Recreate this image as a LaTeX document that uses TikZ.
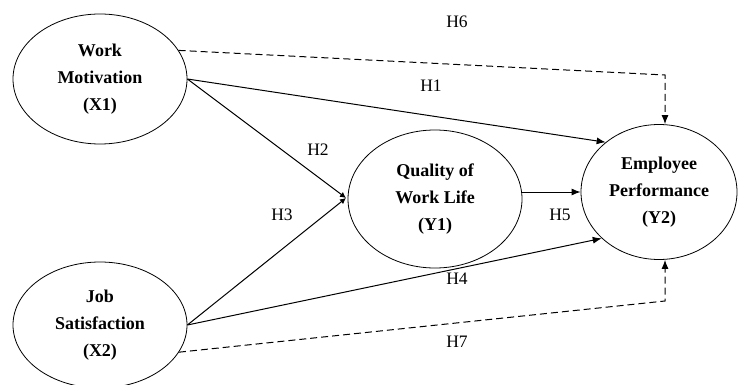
\documentclass[tikz,border=0pt]{standalone}
\usepackage{fontspec}
\setmainfont{Liberation Serif}
\usetikzlibrary{arrows.meta,shapes.geometric}

\begin{document}
\begin{tikzpicture}[x=1pt,y=-1pt,>={Latex[length=9pt,width=7pt]}]
\tikzset{
  construct/.style={draw,ellipse,inner sep=0pt,line width=0.8pt,align=center,
               font=\fontsize{18}{27}\selectfont\bfseries},
  link/.style={->,line width=1pt},
  joint/.style={-{Latex[length=6pt,width=6pt]},line width=1pt},
  indirect/.style={->,line width=1pt,dash pattern=on 7pt off 4pt},
  hyp/.style={font=\fontsize{17.5}{20}\selectfont,inner sep=0pt}
}
\useasboundingbox (0,0) rectangle (738,385);
\node[construct,minimum width=174pt,minimum height=130pt] (x1) at (100,79) {Work\\Motivation\\(X1)};
\node[construct,minimum width=174pt,minimum height=126pt] (x2) at (100,325) {Job\\Satisfaction\\(X2)};
\node[construct,minimum width=174pt,minimum height=138pt] (y1) at (435,199) {Quality of\\Work Life\\(Y1)};
\node[construct,minimum width=156pt,minimum height=135pt] (y2) at (659,192) {Employee\\Performance\\(Y2)};
\coordinate (meet) at (346,198);
\coordinate (h6corner) at (665,75);
\coordinate (h7corner) at (665,301);
% direct paths
\draw[link] (x1.east) -- (y2.137);
\draw[joint] (x1.east) -- (meet);
\draw[joint] (x2.east) -- (meet);
\draw[link] (x2.east) -- (y2.219);
\draw[link] (y1.east |- y2.west) -- (y2.west);
% mediated paths
\draw[indirect] (x1.20) -- (h6corner) -- (h6corner |- y2.north);
\draw[indirect] (x2.-19) -- (h7corner) -- (h7corner |- y2.south);
% hypothesis labels
\node[hyp] (h1) at (431,86) {H1};
\node[hyp] (h2) at (318,150) {H2};
\node[hyp] (h3) at (282,215) {H3};
\node[hyp] (h4) at (457,279) {H4};
\node[hyp] (h5) at (560,215) {H5};
\node[hyp] (h6) at (457,22) {H6};
\node[hyp] (h7) at (457,342) {H7};
\end{tikzpicture}
\end{document}
